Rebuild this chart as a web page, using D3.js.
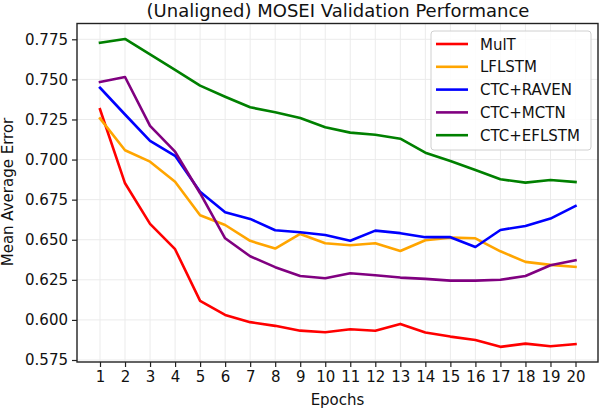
<!DOCTYPE html>
<html>
<head>
<meta charset="utf-8">
<script src="https://cdn.jsdelivr.net/npm/d3@7"></script>
<style>
body { margin: 0; background: #fff; }
text { font-family: "DejaVu Sans", sans-serif; }
</style>
</head>
<body>
<svg id="chart" width="600" height="410"></svg>
<script>
const epochs = [1,2,3,4,5,6,7,8,9,10,11,12,13,14,15,16,17,18,19,20];
const mult   = [0.7314,0.6852,0.6599,0.6441,0.6119,0.6031,0.5986,0.5963,0.5933,0.5923,0.5942,0.5932,0.5975,0.5921,0.5896,0.5875,0.5832,0.5852,0.5836,0.5849];
const lflstm = [0.7257,0.7058,0.6987,0.6862,0.6653,0.6592,0.6493,0.6445,0.6536,0.6478,0.6466,0.6478,0.6430,0.6497,0.6513,0.6509,0.6428,0.6362,0.6343,0.6331];
const raven  = [0.7448,0.7281,0.7116,0.7023,0.6800,0.6671,0.6630,0.6559,0.6547,0.6530,0.6494,0.6557,0.6541,0.6516,0.6516,0.6455,0.6561,0.6586,0.6632,0.6711];
const mctn   = [0.7484,0.7515,0.7210,0.7049,0.6790,0.6509,0.6397,0.6329,0.6274,0.6260,0.6291,0.6279,0.6264,0.6256,0.6245,0.6245,0.6250,0.6274,0.6341,0.6372];
const eflstm = [0.7729,0.7752,0.7656,0.7559,0.7461,0.7392,0.7326,0.7295,0.7259,0.7201,0.7168,0.7155,0.7130,0.7043,0.6991,0.6935,0.6877,0.6856,0.6873,0.6860];
const seriesNames = ["MulT","LFLSTM","CTC+RAVEN","CTC+MCTN","CTC+EFLSTM"];
const seriesColors = ["#ff0000","#ffa500","#0000ff","#800080","#008000"];
const yTicks = [0.575,0.600,0.625,0.650,0.675,0.700,0.725,0.750,0.775];

const seriesData = [mult, lflstm, raven, mctn, eflstm];

const svg = d3.select("#chart");
const pLeft = 77, pRight = 598, pTop = 23.5, pBottom = 362;

const x = d3.scaleLinear().domain([1, 20]).range([100, 575.5]);
const y = d3.scaleLinear().domain([0.575, 0.775]).range([360, 39.3]);

// grid
const g = svg.append("g");
g.selectAll(".vgrid").data(epochs).enter().append("line")
  .attr("x1", d => x(d)).attr("x2", d => x(d))
  .attr("y1", pTop).attr("y2", pBottom)
  .attr("stroke", "#ebebeb").attr("stroke-width", 1);
g.selectAll(".hgrid").data(yTicks).enter().append("line")
  .attr("x1", pLeft).attr("x2", pRight)
  .attr("y1", d => y(d)).attr("y2", d => y(d))
  .attr("stroke", "#ebebeb").attr("stroke-width", 1);

// lines
const line = d3.line().x((d, i) => x(epochs[i])).y(d => y(d));
seriesData.forEach((s, k) => {
  svg.append("path").datum(s)
    .attr("d", line)
    .attr("fill", "none")
    .attr("stroke", seriesColors[k])
    .attr("stroke-width", 2.6)
    .attr("stroke-linejoin", "round")
    .attr("stroke-linecap", "square");
});

// frame
svg.append("rect")
  .attr("x", pLeft).attr("y", pTop)
  .attr("width", pRight - pLeft).attr("height", pBottom - pTop)
  .attr("fill", "none").attr("stroke", "#222").attr("stroke-width", 1.4);

// axes
const xAxis = d3.axisBottom(x).tickValues(epochs).tickSize(5).tickPadding(4).tickFormat(d3.format("d"));
const xg = svg.append("g").attr("transform", `translate(0,${pBottom})`).call(xAxis);
const yAxis = d3.axisLeft(y).tickValues(yTicks).tickSize(5).tickPadding(4).tickFormat(d3.format(".3f"));
const yg = svg.append("g").attr("transform", `translate(${pLeft},0)`).call(yAxis);
[xg, yg].forEach(a => {
  a.select(".domain").remove();
  a.selectAll("line").attr("stroke", "#222").attr("stroke-width", 1.2);
  a.selectAll("text").attr("fill", "#111").style("font-size", "15px").style("font-family", "DejaVu Sans");
});

// title and labels
svg.append("text").attr("x", 338).attr("y", 16.5).attr("text-anchor", "middle")
  .style("font-size", "18px").attr("fill", "#111").text("(Unaligned) MOSEI Validation Performance");
svg.append("text").attr("x", 337.5).attr("y", 405).attr("text-anchor", "middle")
  .style("font-size", "15px").attr("fill", "#111").text("Epochs");
svg.append("text").attr("transform", "translate(13,192) rotate(-90)").attr("text-anchor", "middle")
  .style("font-size", "15px").attr("fill", "#111").text("Mean Average Error");

// legend
const lg = svg.append("g");
lg.append("rect").attr("x", 431).attr("y", 31).attr("width", 160).attr("height", 119)
  .attr("rx", 3).attr("fill", "#fff").attr("fill-opacity", 0.85)
  .attr("stroke", "#d0d0d0").attr("stroke-width", 1);
seriesNames.forEach((n, k) => {
  const yy = 44 + k * 22.8;
  lg.append("line").attr("x1", 436).attr("x2", 468).attr("y1", yy).attr("y2", yy)
    .attr("stroke", seriesColors[k]).attr("stroke-width", 2.6);
  lg.append("text").attr("x", 480).attr("y", yy + 5.5)
    .style("font-size", "15px").attr("fill", "#111").text(n);
});
</script>
</body>
</html>
